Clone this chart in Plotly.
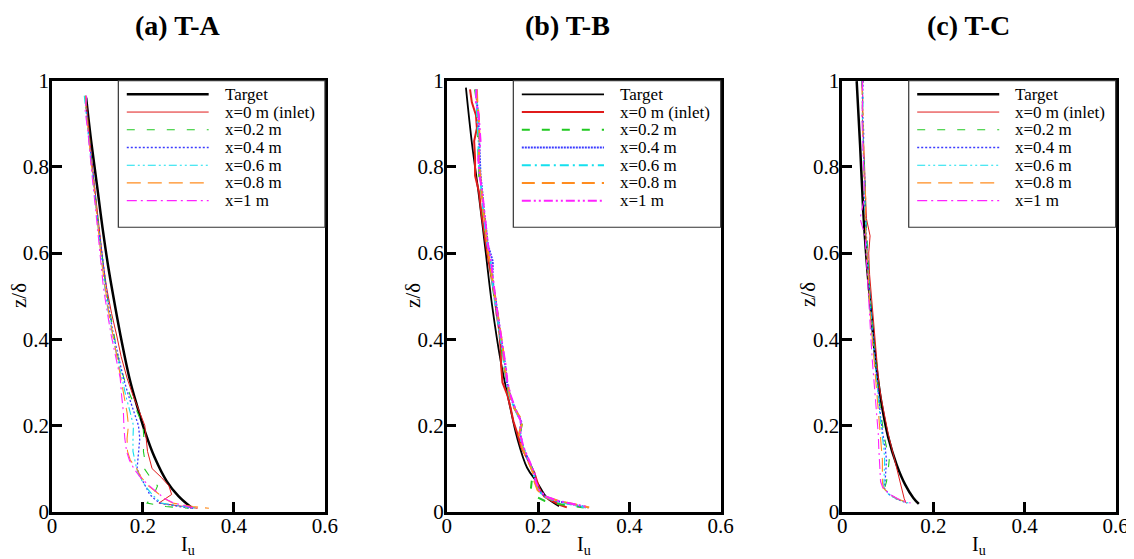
import plotly.graph_objects as go

# legend labels / colours shared by the three panels
labels = ["Target", "x=0 m (inlet)", "x=0.2 m", "x=0.4 m", "x=0.6 m", "x=0.8 m", "x=1 m"]
colors = ["black", "#e01b1b", "#22c922", "#3b3bff", "#14e0ee", "#ff8c1f", "#ff22ff"]
titles = ["(a) T-A", "(b) T-B", "(c) T-C"]
x_ticks = [0, 0.2, 0.4, 0.6]
x_ticktext = ["0", "0.2", "0.4", "0.6"]
y_ticks = [0, 0.2, 0.4, 0.6, 0.8, 1]
y_ticktext = ["0", "0.2", "0.4", "0.6", "0.8", "1"]

# ---- (a) T-A ----
a_target_z = [0.961, 0.852, 0.752, 0.659, 0.566, 0.481, 0.396, 0.311, 0.249, 0.187, 0.125, 0.071, 0.036, 0.009]
a_target = [0.075, 0.087, 0.0996, 0.111, 0.124, 0.138, 0.153, 0.170, 0.186, 0.204, 0.226, 0.252, 0.278, 0.307]
a_z = [0.965, 0.93, 0.88, 0.82, 0.76, 0.70, 0.64, 0.58, 0.52, 0.46, 0.41, 0.36, 0.31, 0.27,
       0.23, 0.20, 0.17, 0.14, 0.12, 0.10, 0.08, 0.06, 0.04, 0.03, 0.02, 0.012, 0.008]
a_x0 = [0.074, 0.077, 0.081, 0.087, 0.093, 0.099, 0.106, 0.112, 0.120, 0.131, 0.142, 0.152, 0.165, 0.178,
        0.193, 0.204, 0.207, 0.210, 0.215, 0.220, 0.240, 0.257, 0.263, 0.250, 0.235, 0.290, 0.320]
a_x02 = [0.073, 0.075, 0.081, 0.086, 0.092, 0.099, 0.104, 0.112, 0.118, 0.128, 0.136, 0.145, 0.158, 0.172,
         0.188, 0.200, 0.202, 0.201, 0.204, 0.203, 0.216, 0.232, 0.224, 0.216, 0.209, 0.250, 0.300]
a_x04 = [0.075, 0.076, 0.080, 0.087, 0.093, 0.098, 0.105, 0.111, 0.119, 0.127, 0.135, 0.146, 0.157, 0.168,
         0.180, 0.190, 0.193, 0.190, 0.188, 0.187, 0.195, 0.205, 0.215, 0.225, 0.237, 0.280, 0.310]
a_x06 = [0.071, 0.074, 0.079, 0.085, 0.091, 0.097, 0.103, 0.110, 0.116, 0.124, 0.133, 0.143, 0.154, 0.162,
         0.172, 0.179, 0.178, 0.178, 0.182, 0.186, 0.193, 0.205, 0.220, 0.230, 0.240, 0.290, 0.320]
a_x08 = [0.074, 0.075, 0.080, 0.085, 0.092, 0.098, 0.104, 0.109, 0.117, 0.125, 0.134, 0.143, 0.152, 0.158,
         0.165, 0.168, 0.165, 0.166, 0.172, 0.186, 0.196, 0.212, 0.236, 0.248, 0.265, 0.310, 0.345]
a_x1 = [0.076, 0.073, 0.079, 0.084, 0.090, 0.096, 0.102, 0.108, 0.113, 0.122, 0.130, 0.140, 0.150, 0.153,
        0.157, 0.158, 0.160, 0.164, 0.170, 0.180, 0.194, 0.214, 0.236, 0.248, 0.268, 0.300, 0.315]

# ---- (b) T-B ----
b_target_z = [0.984, 0.852, 0.737, 0.605, 0.481, 0.350, 0.257, 0.172, 0.102, 0.068, 0.032, 0.013]
b_target = [0.042, 0.0555, 0.070, 0.085, 0.099, 0.118, 0.136, 0.154, 0.176, 0.198, 0.220, 0.246]
b_z = [0.98, 0.95, 0.92, 0.89, 0.86, 0.82, 0.78, 0.74, 0.70, 0.66, 0.62, 0.58, 0.54, 0.50, 0.46, 0.42,
       0.38, 0.34, 0.30, 0.27, 0.24, 0.21, 0.18, 0.15, 0.12, 0.09, 0.07, 0.05, 0.035, 0.025, 0.015, 0.01]
b_x0 = [0.051, 0.055, 0.064, 0.066, 0.060, 0.062, 0.062, 0.071, 0.075, 0.080, 0.086, 0.092, 0.099, 0.105, 0.109, 0.115,
        0.118, 0.119, 0.122, 0.133, 0.140, 0.146, 0.155, 0.163, 0.178, 0.192, 0.198, 0.204, 0.214, 0.230, 0.250, 0.263]
b_x02 = [0.062, 0.066, 0.067, 0.068, 0.069, 0.070, 0.071, 0.076, 0.080, 0.083, 0.089, 0.094, 0.100, 0.104, 0.111, 0.116,
         0.121, 0.125, 0.132, 0.137, 0.148, 0.166, 0.160, 0.166, 0.178, 0.190, 0.186, 0.184, 0.196, 0.215, 0.260, 0.300]
b_x04 = [0.065, 0.066, 0.069, 0.070, 0.071, 0.072, 0.074, 0.078, 0.081, 0.086, 0.090, 0.101, 0.100, 0.106, 0.111, 0.117,
         0.122, 0.128, 0.132, 0.139, 0.149, 0.163, 0.161, 0.167, 0.179, 0.191, 0.194, 0.201, 0.216, 0.240, 0.285, 0.310]
b_x06 = [0.064, 0.065, 0.067, 0.068, 0.070, 0.069, 0.073, 0.076, 0.080, 0.084, 0.089, 0.096, 0.099, 0.104, 0.110, 0.116,
         0.121, 0.126, 0.131, 0.137, 0.148, 0.162, 0.160, 0.166, 0.178, 0.190, 0.193, 0.200, 0.214, 0.238, 0.280, 0.305]
b_x08 = [0.066, 0.067, 0.070, 0.071, 0.072, 0.070, 0.073, 0.077, 0.080, 0.085, 0.088, 0.094, 0.100, 0.105, 0.112, 0.118,
         0.123, 0.126, 0.132, 0.138, 0.148, 0.166, 0.158, 0.165, 0.177, 0.189, 0.192, 0.199, 0.215, 0.245, 0.290, 0.312]
b_x1 = [0.065, 0.064, 0.070, 0.072, 0.074, 0.069, 0.072, 0.078, 0.082, 0.085, 0.090, 0.097, 0.101, 0.106, 0.111, 0.117,
        0.122, 0.129, 0.133, 0.140, 0.150, 0.162, 0.161, 0.168, 0.180, 0.192, 0.195, 0.203, 0.218, 0.245, 0.290, 0.310]

# ---- (c) T-C ----
c_target_z = [0.999, 0.852, 0.698, 0.581, 0.466, 0.350, 0.249, 0.172, 0.110, 0.063, 0.032, 0.018]
c_target = [0.0316, 0.039, 0.046, 0.0535, 0.063, 0.0733, 0.0864, 0.101, 0.119, 0.138, 0.156, 0.168]
c_z = [1.0, 0.96, 0.92, 0.88, 0.84, 0.80, 0.76, 0.72, 0.68, 0.64, 0.60, 0.55, 0.50, 0.45,
       0.40, 0.35, 0.30, 0.26, 0.22, 0.18, 0.15, 0.12, 0.09, 0.07, 0.055, 0.04, 0.03, 0.02]
c_x0 = [0.042, 0.045, 0.044, 0.046, 0.048, 0.049, 0.050, 0.051, 0.053, 0.061, 0.058, 0.060, 0.064, 0.067,
        0.071, 0.075, 0.080, 0.086, 0.093, 0.101, 0.108, 0.115, 0.122, 0.127, 0.130, 0.134, 0.136, 0.140]
c_x02 = [0.044, 0.045, 0.043, 0.046, 0.047, 0.049, 0.050, 0.050, 0.052, 0.053, 0.055, 0.058, 0.061, 0.065,
         0.069, 0.073, 0.077, 0.081, 0.086, 0.091, 0.097, 0.103, 0.100, 0.097, 0.093, 0.105, 0.120, 0.140]
c_x04 = [0.046, 0.044, 0.045, 0.047, 0.046, 0.048, 0.050, 0.049, 0.051, 0.053, 0.054, 0.057, 0.060, 0.064,
         0.068, 0.072, 0.076, 0.080, 0.084, 0.089, 0.094, 0.097, 0.096, 0.094, 0.092, 0.103, 0.118, 0.142]
c_x06 = [0.043, 0.046, 0.044, 0.045, 0.047, 0.048, 0.049, 0.050, 0.051, 0.052, 0.054, 0.057, 0.060, 0.063,
         0.067, 0.071, 0.075, 0.079, 0.083, 0.087, 0.091, 0.093, 0.092, 0.091, 0.091, 0.102, 0.118, 0.145]
c_x08 = [0.045, 0.043, 0.046, 0.045, 0.047, 0.047, 0.049, 0.052, 0.050, 0.052, 0.053, 0.056, 0.059, 0.062,
         0.066, 0.070, 0.074, 0.077, 0.080, 0.084, 0.086, 0.088, 0.088, 0.088, 0.090, 0.104, 0.120, 0.148]
c_x1 = [0.044, 0.045, 0.043, 0.044, 0.046, 0.047, 0.048, 0.047, 0.039, 0.050, 0.052, 0.054, 0.057, 0.060,
        0.063, 0.066, 0.070, 0.074, 0.077, 0.079, 0.080, 0.082, 0.083, 0.084, 0.089, 0.105, 0.122, 0.150]

panels = [
    (a_target_z, a_target, a_z, [a_x0, a_x02, a_x04, a_x06, a_x08, a_x1]),
    (b_target_z, b_target, b_z, [b_x0, b_x02, b_x04, b_x06, b_x08, b_x1]),
    (c_target_z, c_target, c_z, [c_x0, c_x02, c_x04, c_x06, c_x08, c_x1]),
]

dash_thin = ["solid", "solid", "8px,12px", "2px,2px", "8px,3px,2px,3px,2px,3px", "14px,7px", "10px,4px,2px,4px"]
dash_thick = ["solid", "solid", "8px,12px", "2px,1px", "9px,4px,2px,4px", "13px,7px", "9px,3px,2px,3px,2px,3px"]
styles = [
    (dash_thin, [2.5, 1, 1.1, 1.3, 1.1, 1.1, 1.1]),
    (dash_thick, [1.8, 2, 2, 2, 2, 2, 2]),
    (dash_thin, [2.5, 1, 1.1, 1.3, 1.1, 1.1, 1.1]),
]

# the page body adds an 8 px offset, so positions below are shifted up/left by 8 px
xdom = [[0.0388, 0.2795], [0.3869, 0.6285], [0.7357, 0.9768]]
ydom = [0.0989, 0.8699]
title_x = [0.1499, 0.4938, 0.8466]
ylab_x = [0.0097, 0.3571, 0.7055]
FONT = "Liberation Serif, Times New Roman, serif"

fig = go.Figure()
shapes = []
annotations = []

for i, (tz, tx, sz, series) in enumerate(panels):
    n = "" if i == 0 else str(i + 1)
    xa, ya = "x" + n, "y" + n
    dashes, widths = styles[i]

    fig.add_trace(go.Scatter(x=tx, y=tz, mode="lines", xaxis=xa, yaxis=ya, showlegend=False,
                             line=dict(color=colors[0], width=widths[0], shape="spline")))
    for k, vals in enumerate(series):
        fig.add_trace(go.Scatter(x=vals, y=sz, mode="lines", xaxis=xa, yaxis=ya, showlegend=False,
                                 line=dict(color=colors[k + 1], width=widths[k + 1], dash=dashes[k + 1])))

    axis_common = dict(showgrid=False, zeroline=False, showline=True, mirror=True, automargin=False,
                       linecolor="black", linewidth=2.5, ticks="inside", ticklen=10,
                       tickwidth=2.5, tickcolor="black",
                       tickfont=dict(family=FONT, size=21, color="black"))
    fig.update_layout(**{
        "xaxis" + n: dict(domain=xdom[i], range=[0, 0.6], tickvals=x_ticks, ticktext=x_ticktext,
                          anchor=ya, ticklabelstandoff=-7, **axis_common),
        "yaxis" + n: dict(domain=ydom, range=[0, 1], tickvals=y_ticks, ticktext=y_ticktext,
                          anchor=xa, ticklabelstandoff=-4, **axis_common),
    })

    # legend box drawn inside each panel
    xr, yr = xa + " domain", ya + " domain"
    shapes.append(dict(type="rect", xref=xr, yref=yr, x0=0.243, x1=1.0, y0=0.66, y1=1.0,
                       line=dict(color="#333333", width=1.2), fillcolor="white", layer="above"))
    for k, lab in enumerate(labels):
        yy = 0.9684 - k * 0.0411
        shapes.append(dict(type="line", xref=xr, yref=yr, x0=0.274, x1=0.574, y0=yy, y1=yy,
                           line=dict(color=colors[k], width=widths[k], dash=dashes[k]), layer="above"))
        annotations.append(dict(text=lab, xref=xr, yref=yr, x=0.625, y=yy, xanchor="left",
                                yanchor="middle", showarrow=False,
                                font=dict(family=FONT, size=17, color="black")))

    # panel title and axis titles
    annotations.append(dict(text="<b>" + titles[i] + "</b>", xref="paper", yref="paper",
                            x=title_x[i], y=1.0, xanchor="center", yanchor="top",
                            showarrow=False, font=dict(family=FONT, size=28, color="black")))
    annotations.append(dict(text="z/δ", xref="paper", yref="paper", x=ylab_x[i],
                            y=0.4866, textangle=-90, xanchor="center", yanchor="middle", showarrow=False,
                            font=dict(family=FONT, size=21, color="black")))
    annotations.append(dict(text="I<sub>u</sub>", xref=xr, yref="paper", x=0.5, y=0.038,
                            xanchor="center", yanchor="middle", showarrow=False,
                            font=dict(family=FONT, size=20, color="black")))

fig.update_layout(width=1134, height=559, margin=dict(l=0, r=0, t=0, b=0),
                  paper_bgcolor="white", plot_bgcolor="white",
                  shapes=shapes, annotations=annotations)

fig.write_html("out.html")
